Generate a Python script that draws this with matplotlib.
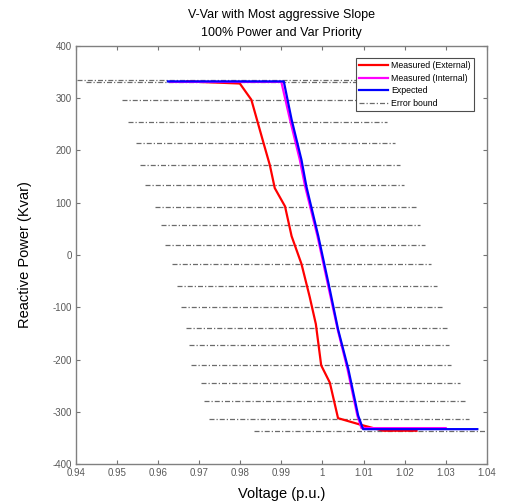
import numpy as np
import matplotlib
matplotlib.use('Agg')
from matplotlib import pyplot as plt
from matplotlib.lines import Line2D

plt.rcParams['font.family'] = ['Liberation Sans', 'DejaVu Sans']
plt.rcParams['axes.unicode_minus'] = False

# measured at the external meter
ext_v = [0.9670, 0.9799, 0.9827, 0.9856, 0.9872, 0.9884, 0.9909, 0.9925, 0.9949,
         0.9969, 0.9984, 0.9997, 1.0018, 1.0038, 1.0095, 1.0148, 1.0229]
ext_q = [332, 328, 297, 216, 172, 128, 93, 36, -17,
         -80, -132, -211, -244, -312, -325, -336, -336]

# measured internally by the inverter
int_v = [0.9630, 0.9900, 0.9921, 0.9945, 0.9958, 0.9988, 1.0016, 1.0037, 1.0061,
         1.0085, 1.0095, 1.0300]
int_q = [331, 331, 259, 182, 131, 36, -66, -142, -218,
         -307, -331, -331]

# expected V-Var curve
exp_v = [0.9624, 0.9906, 0.9925, 0.9949, 0.9961, 0.9990, 1.0018, 1.0038, 1.0063,
         1.0087, 1.0099, 1.0377]
exp_q = [332, 332, 259, 182, 131, 36, -66, -142, -218,
         -307, -333, -333]

# error bound segments (Q level, lower V, upper V)
eb_q = [335, 331, 297, 254, 214, 173, 133, 92, 58, 19, -17, -60, -99,
        -140, -172, -211, -245, -280, -314, -336]
eb_lo = [0.9402, 0.9425, 0.9511, 0.9527, 0.9546, 0.9556, 0.9568, 0.9592, 0.9607, 0.9617,
         0.9634, 0.9645, 0.9657, 0.9669, 0.9675, 0.9680, 0.9704, 0.9712, 0.9724, 0.9833]
eb_hi = [1.0120, 1.0150, 1.0140, 1.0157, 1.0176, 1.0188, 1.0198, 1.0227, 1.0237, 1.0249,
         1.0265, 1.0278, 1.0290, 1.0302, 1.0308, 1.0314, 1.0336, 1.0346, 1.0357, 1.0400]

x_ticks = np.arange(0.94, 1.0401, 0.01)
x_labels = ['0.94', '0.95', '0.96', '0.97', '0.98', '0.99', '1', '1.01', '1.02', '1.03', '1.04']
y_ticks = np.arange(-400, 401, 100)

fig = plt.figure(figsize=(5.06, 5.04), dpi=100)
ax = fig.add_axes([0.150, 0.079, 0.812, 0.830])

eb_style = dict(color='0.42', linewidth=0.9, linestyle=(0, (4, 1.6, 1, 1.6)))
for q, lo, hi in zip(eb_q, eb_lo, eb_hi):
    ax.plot([lo, hi], [q, q], **eb_style)

ax.plot(ext_v, ext_q, color='#ff0000', linewidth=1.6, zorder=3)
ax.plot(int_v, int_q, color='#ff00ff', linewidth=1.6, zorder=4)
ax.plot(exp_v, exp_q, color='#0000ff', linewidth=1.6, zorder=5)

ax.set_xlim(0.94, 1.04)
ax.set_ylim(-400, 400)
ax.set_xticks(x_ticks)
ax.set_xticklabels(x_labels)
ax.set_yticks(y_ticks)

ax.tick_params(direction='in', length=3, width=0.8, colors='0.45', labelcolor='0.35',
               labelsize=7, top=True, right=True, pad=3)
for s in ax.spines.values():
    s.set_color('0.5')
    s.set_linewidth(1.0)

ax.set_xlabel('Voltage (p.u.)', fontsize=10.5, labelpad=6)
ax.set_ylabel('Reactive Power (Kvar)', fontsize=10.5, labelpad=15)
ax.set_title('V-Var with Most aggressive Slope\n100% Power and Var Priority', fontsize=9, pad=7,
             linespacing=1.7)

handles = [Line2D([], [], color='#ff0000', linewidth=1.6),
           Line2D([], [], color='#ff00ff', linewidth=1.6),
           Line2D([], [], color='#0000ff', linewidth=1.6),
           Line2D([], [], **eb_style)]
labels = ['Measured (External)', 'Measured (Internal)', 'Expected', 'Error bound']
leg = ax.legend(handles, labels, loc='upper right', bbox_to_anchor=(0.968, 0.971),
                fontsize=6.3, frameon=True, fancybox=False, framealpha=1,
                edgecolor='0.3', handlelength=3.3, handletextpad=0.3,
                borderpad=0.35, labelspacing=0.42, borderaxespad=0)
leg.get_frame().set_linewidth(0.8)

fig.savefig('out.png', dpi=100)
